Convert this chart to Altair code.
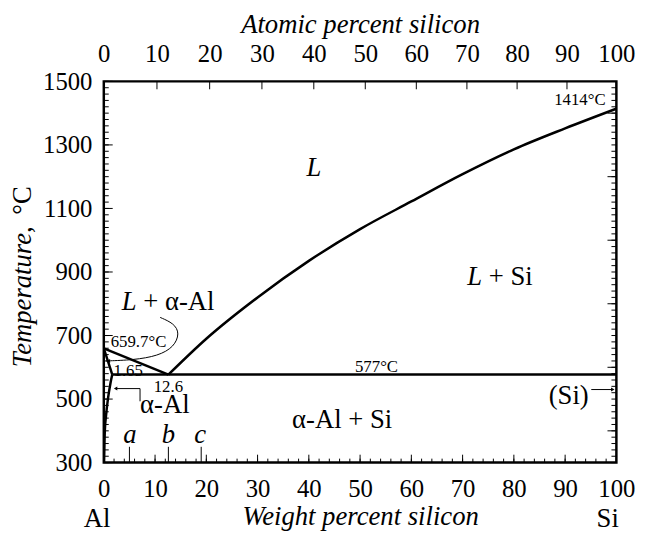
import json
import altair as alt
import pandas as pd

FONT = "Liberation Serif"

# ---------------- phase boundaries (wt% Si, temperature °C) ----------------
liq_al_w = [0, 12.6]
liq_al_T = [659.7, 577]
liq_si_w = [12.6, 20, 30, 40, 50, 60, 70, 80, 90, 100]
liq_si_T = [577, 690, 820, 935, 1035, 1122, 1208, 1286, 1352, 1414]
solidus_w = [0, 1.65]
solidus_T = [659.7, 577]
solvus_w = [1.65, 1.3, 0.8, 0.45, 0.2, 0.05]
solvus_T = [577, 550, 500, 450, 400, 300]
eutectic_w = [1.65, 100]
eutectic_T = [577, 577]

# thin leader lines
leader_w = [11.0, 13.7, 14.8, 13.7, 10.6, 5.8, 0.4]
leader_T = [757, 738, 707, 664, 636, 623, 620]
bracket_w = [7.07, 7.07, 2.3]
bracket_T = [493, 533, 533]
si_arrow_w = [95.1, 99.3]
si_arrow_T = [530, 530]

# arrow heads
head_w = [0.9, 2.3]
head_T = [620, 533]
head_r_w = [99.3]
head_r_T = [530]

# axis ticks
bottom_minor = list(range(0, 101, 2))
bottom_major = list(range(0, 101, 10))
abc_w = [5, 12.6, 19]
left_minor = list(range(300, 1501, 20))
left_major = list(range(300, 1501, 200))
right_major = list(range(400, 1401, 200))
top_pos = [0, 10.37, 20.65, 30.85, 40.97, 51.01, 60.97, 70.84, 80.63, 90.36, 100]
top_lab = ["0", "10", "20", "30", "40", "50", "60", "70", "80", "90", "100"]

# text annotations
big_italic_txt = ["L", "L", "L", "a", "b", "c"]
big_italic_w = [41.0, 70.9, 3.5, 5.1, 12.6, 18.8]
big_italic_T = [1226, 885, 804, 387, 387, 387]
big_italic_align = ["center", "left", "left", "center", "center", "center"]

big_txt = ["+ Si", "+ α-Al", "α-Al", "α-Al + Si", "(Si)"]
big_w = [75.1, 7.7, 7.07, 46.5, 94.6]
big_T = [885, 804, 480, 434, 508]
big_align = ["left", "left", "left", "center", "right"]

small_txt = ["659.7°C", "1.65", "12.6", "577°C", "1414°C"]
small_w = [1.35, 1.9, 12.6, 53.2, 97.9]
small_T = [679, 589, 539, 601, 1441]
small_align = ["left", "left", "center", "center", "right"]

end_txt = ["Al", "Si"]
end_w = [-1.3, 98.3]

W, H = 519, 386
TICK = 25
BIG = 27
SMALL = 17

segs = []
for name, ws, ts in [("liqAl", liq_al_w, liq_al_T), ("liqSi", liq_si_w, liq_si_T),
                     ("sol", solidus_w, solidus_T), ("solv", solvus_w, solvus_T),
                     ("eut", eutectic_w, eutectic_T)]:
    for i, (w, t) in enumerate(zip(ws, ts)):
        segs.append({"seg": name, "i": i, "w": w, "T": t})
lines_df = pd.DataFrame(segs)

thin = []
for name, ws, ts in [("br", bracket_w, bracket_T), ("si", si_arrow_w, si_arrow_T)]:
    for i, (w, t) in enumerate(zip(ws, ts)):
        thin.append({"seg": name, "i": i, "w": w, "T": t})
thin_df = pd.DataFrame(thin)
leader_df = pd.DataFrame({"i": range(len(leader_w)), "w": leader_w, "T": leader_T})

xs = alt.Scale(domain=[0, 100], nice=False, zero=False)
ys = alt.Scale(domain=[300, 1500], nice=False, zero=False)

xaxis = alt.Axis(values=bottom_major, orient="bottom", domain=False, ticks=False, grid=False,
                 labelFont=FONT, labelFontSize=TICK, labelColor="black", labelPadding=14,
                 labelFlush=False, format="d", title="Weight percent silicon", titleFont=FONT,
                 titleFontStyle="italic", titleFontWeight="normal", titleFontSize=BIG,
                 titleColor="black", titlePadding=3)
yaxis = alt.Axis(values=left_major, orient="left", domain=False, ticks=False, grid=False,
                 labelFont=FONT, labelFontSize=TICK, labelColor="black", labelPadding=12,
                 labelFlush=False, format="d", title=None)

X = alt.X("w:Q", scale=xs, axis=xaxis)
Y = alt.Y("T:Q", scale=ys, axis=yaxis)

lines = alt.Chart(lines_df).mark_line(color="black", strokeWidth=2.5, clip=True,
                                      interpolate="monotone").encode(
    x=X, y=Y, detail="seg:N", order="i:Q")
thin_lines = alt.Chart(thin_df).mark_line(color="black", strokeWidth=1).encode(
    x=X, y=Y, detail="seg:N", order="i:Q")
leader = alt.Chart(leader_df).mark_line(color="black", strokeWidth=1, interpolate="basis").encode(
    x=X, y=Y, order="i:Q")
heads_l = alt.Chart(pd.DataFrame({"w": head_w, "T": head_T})).mark_point(
    shape="triangle-left", filled=True, color="black", size=16, opacity=1).encode(x=X, y=Y)
heads_r = alt.Chart(pd.DataFrame({"w": head_r_w, "T": head_r_T})).mark_point(
    shape="triangle-right", filled=True, color="black", size=16, opacity=1).encode(x=X, y=Y)


def text_layer(txt, ws, ts, aligns, size, style):
    df = pd.DataFrame({"t": txt, "w": ws, "T": ts, "a": aligns})
    layers = []
    for al in sorted(set(aligns)):
        layers.append(alt.Chart(df[df.a == al]).mark_text(
            font=FONT, fontSize=size, fontStyle=style, align=al, baseline="middle",
            color="black").encode(x=X, y=Y, text="t:N"))
    return layers


texts = (text_layer(big_italic_txt, big_italic_w, big_italic_T, big_italic_align, BIG, "italic")
         + text_layer(big_txt, big_w, big_T, big_align, BIG, "normal")
         + text_layer(small_txt, small_w, small_T, small_align, SMALL, "normal"))

end_labels = alt.Chart(pd.DataFrame({"t": end_txt, "w": end_w})).mark_text(
    font=FONT, fontSize=BIG, align="center", baseline="middle", color="black").encode(
    x=X, y=alt.value(H + 57), text="t:N")

ytitle1 = alt.Chart(pd.DataFrame({"t": ["Temperature,"], "T": [822]})).mark_text(
    font=FONT, fontSize=BIG, fontStyle="italic", angle=270, align="center",
    baseline="middle", color="black").encode(x=alt.value(-82), y=Y, text="t:N")
ytitle2 = alt.Chart(pd.DataFrame({"t": ["°C"], "T": [1125]})).mark_text(
    font=FONT, fontSize=BIG, angle=270, align="center",
    baseline="middle", color="black").encode(x=alt.value(-82), y=Y, text="t:N")

# inward ticks
bmin = alt.Chart(pd.DataFrame({"w": bottom_minor})).mark_rule(color="black", strokeWidth=1).encode(
    x=X, y=alt.value(H), y2=alt.value(H - 4))
bmaj = alt.Chart(pd.DataFrame({"w": bottom_major})).mark_rule(color="black", strokeWidth=1).encode(
    x=X, y=alt.value(H), y2=alt.value(H - 8))
babc = alt.Chart(pd.DataFrame({"w": abc_w})).mark_rule(color="black", strokeWidth=1).encode(
    x=X, y=alt.value(H), y2=alt.value(H - 16))
lmin = alt.Chart(pd.DataFrame({"T": left_minor})).mark_rule(color="black", strokeWidth=1).encode(
    y=Y, x=alt.value(0), x2=alt.value(5))
lmaj = alt.Chart(pd.DataFrame({"T": left_major})).mark_rule(color="black", strokeWidth=1).encode(
    y=Y, x=alt.value(0), x2=alt.value(9))
rmin = alt.Chart(pd.DataFrame({"T": left_minor})).mark_rule(color="black", strokeWidth=1).encode(
    y=Y, x=alt.value(W), x2=alt.value(W - 5))
rmaj = alt.Chart(pd.DataFrame({"T": right_major})).mark_rule(color="black", strokeWidth=1).encode(
    y=Y, x=alt.value(W), x2=alt.value(W - 9))

main = alt.layer(lines, thin_lines, leader, heads_l, heads_r, *texts, end_labels,
                 ytitle1, ytitle2, bmin, bmaj, babc, lmin, lmaj, rmin, rmaj)

label_expr = f"{json.dumps(top_lab)}[indexof({json.dumps(top_pos)}, datum.value)]"
top_axis = alt.Axis(values=top_pos, orient="top", domain=False, ticks=False, grid=False,
                    labelFont=FONT, labelFontSize=TICK, labelColor="black", labelPadding=15,
                    labelFlush=False, labelExpr=label_expr,
                    title="Atomic percent silicon", titleFont=FONT, titleFontStyle="italic",
                    titleFontWeight="normal", titleFontSize=BIG, titleColor="black",
                    titlePadding=3)
top = alt.Chart(pd.DataFrame({"w": top_pos})).mark_rule(color="black", strokeWidth=1).encode(
    x=alt.X("w:Q", scale=xs, axis=top_axis), y=alt.value(0), y2=alt.value(8))

chart = alt.layer(main, top).resolve_scale(x="independent").properties(
    width=W, height=H,
    padding={"left": 97, "top": 71, "right": 31, "bottom": 69},
    autosize=alt.AutoSizeParams(type="none"),
    background="white",
).configure_view(stroke="black", strokeWidth=2.5).configure_axis(
    labelFont=FONT, titleFont=FONT).configure_text(font=FONT)

chart.save("out.html", embed_options={"renderer": "svg", "actions": False})
